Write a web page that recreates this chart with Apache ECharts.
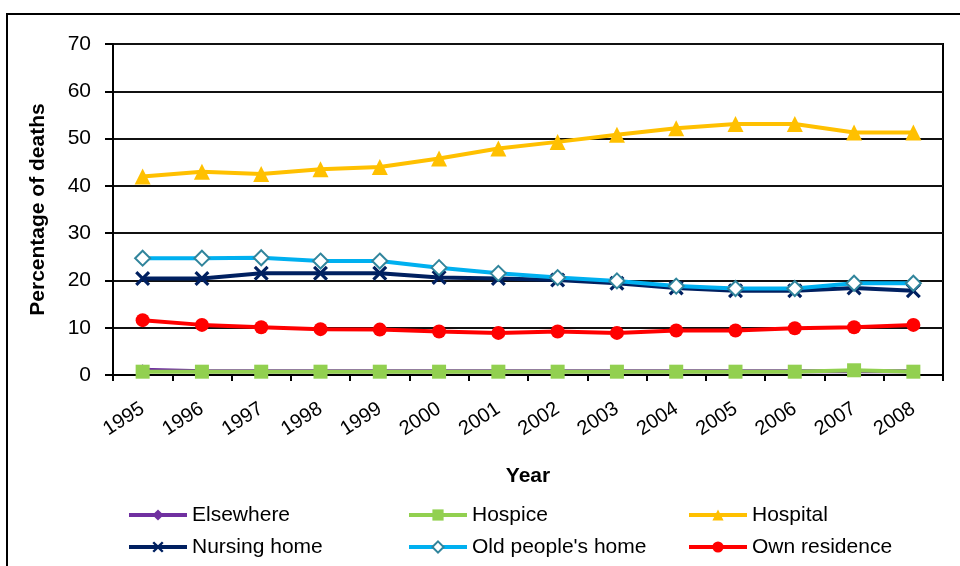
<!DOCTYPE html>
<html>
<head>
<meta charset="utf-8">
<script src="https://cdn.jsdelivr.net/npm/echarts@6/dist/echarts.min.js"></script>
<style>html,body{margin:0;padding:0;background:#fff;}#c{width:960px;height:566px;}</style>
</head>
<body>
<div id="c"></div>
<script>
var years = ['1995','1996','1997','1998','1999','2000','2001','2002','2003','2004','2005','2006','2007','2008'];
var elsewhere = [1.1,0.8,0.8,0.8,0.8,0.8,0.8,0.8,0.8,0.8,0.8,0.8,0.8,0.8];
var hospice = [0.7,0.7,0.7,0.7,0.7,0.7,0.7,0.7,0.7,0.7,0.7,0.7,1.0,0.7];
var hospital = [42.0,43.0,42.5,43.5,44.0,45.8,47.9,49.3,50.8,52.2,53.1,53.1,51.3,51.3];
var nursingHome = [20.4,20.4,21.5,21.5,21.5,20.6,20.4,20.1,19.4,18.4,17.8,17.8,18.4,17.8];
var oldPeoplesHome = [24.7,24.7,24.8,24.1,24.1,22.7,21.5,20.6,19.9,18.8,18.3,18.3,19.4,19.4];
var ownResidence = [11.6,10.6,10.1,9.7,9.6,9.2,8.9,9.2,8.9,9.4,9.4,9.9,10.1,10.6];
var yTicks = [0,10,20,30,40,50,60,70];
var legendNames = ['Elsewhere','Hospice','Hospital','Nursing home',"Old people's home",'Own residence'];

var FONT = '"Liberation Sans", Arial, sans-serif';
var xPath = 'path://M0,1.5 L1.5,0 L5,3.5 L8.5,0 L10,1.5 L6.5,5 L10,8.5 L8.5,10 L5,6.5 L1.5,10 L0,8.5 L3.5,5 Z';

function mk(name, data, color, symbol, size, extra) {
  var s = {
    name: name, type: 'line', data: data,
    symbol: symbol, symbolSize: size,
    lineStyle: {color: color, width: 4},
    itemStyle: {color: color},
    animation: false
  };
  if (extra) { for (var k in extra) s[k] = extra[k]; }
  return s;
}

var legendLeft = [127, 407, 687];
var legendTop = [504, 536];
var legends = legendNames.map(function (n, i) {
  return {
    data: [n], orient: 'horizontal',
    left: legendLeft[i % 3], top: legendTop[Math.floor(i / 3)],
    itemWidth: 58, itemHeight: 14, padding: 0,
    lineStyle: {width: 4},
    textStyle: {fontFamily: FONT, fontSize: 21, lineHeight: 22, color: '#000'}
  };
});

var chart = echarts.init(document.getElementById('c'));
chart.setOption({
  backgroundColor: '#fff',
  animation: false,
  graphic: [{
    type: 'rect', shape: {x: 7, y: 14, width: 1000, height: 600},
    style: {fill: 'none', stroke: '#000', lineWidth: 2}, silent: true, z: -10
  }],
  grid: {left: 113, right: 17, top: 44, bottom: 191, show: true, borderColor: '#000', borderWidth: 2, backgroundColor: 'transparent'},
  xAxis: {
    type: 'category', data: years, boundaryGap: true,
    name: 'Year', nameLocation: 'middle', nameGap: 91,
    nameTextStyle: {fontFamily: FONT, fontSize: 21, fontWeight: 'bold', color: '#000'},
    axisLine: {lineStyle: {color: '#000', width: 2}},
    axisTick: {show: true, length: 6, lineStyle: {color: '#000', width: 2}},
    axisLabel: {rotate: 33, fontFamily: FONT, fontSize: 20, color: '#000', margin: 32, interval: 0},
    splitLine: {show: false}
  },
  yAxis: {
    type: 'value', min: 0, max: 70, interval: 10,
    name: 'Percentage of deaths', nameLocation: 'middle', nameGap: 64, nameRotate: 90,
    nameTextStyle: {fontFamily: FONT, fontSize: 21, fontWeight: 'bold', color: '#000'},
    axisLine: {show: true, lineStyle: {color: '#000', width: 2}},
    axisTick: {show: true, length: 8, lineStyle: {color: '#000', width: 2}},
    axisLabel: {fontFamily: FONT, fontSize: 21, color: '#000', margin: 22,
      formatter: function (v) { return yTicks.indexOf(v) >= 0 ? String(v) : ''; }},
    splitLine: {show: true, lineStyle: {color: '#111', width: 2}}
  },
  legend: legends,
  series: [
    mk('Elsewhere', elsewhere, '#7030A0', 'diamond', 11),
    mk('Hospice', hospice, '#92D050', 'rect', 14),
    mk('Hospital', hospital, '#FFC000', 'triangle', 16),
    mk('Nursing home', nursingHome, '#002060', xPath, 15),
    mk("Old people's home", oldPeoplesHome, '#00B0F0', 'diamond', 15, {
      itemStyle: {color: '#ffffff', borderColor: '#31859C', borderWidth: 2}
    }),
    mk('Own residence', ownResidence, '#FF0000', 'circle', 14)
  ]
});
</script>
</body>
</html>
